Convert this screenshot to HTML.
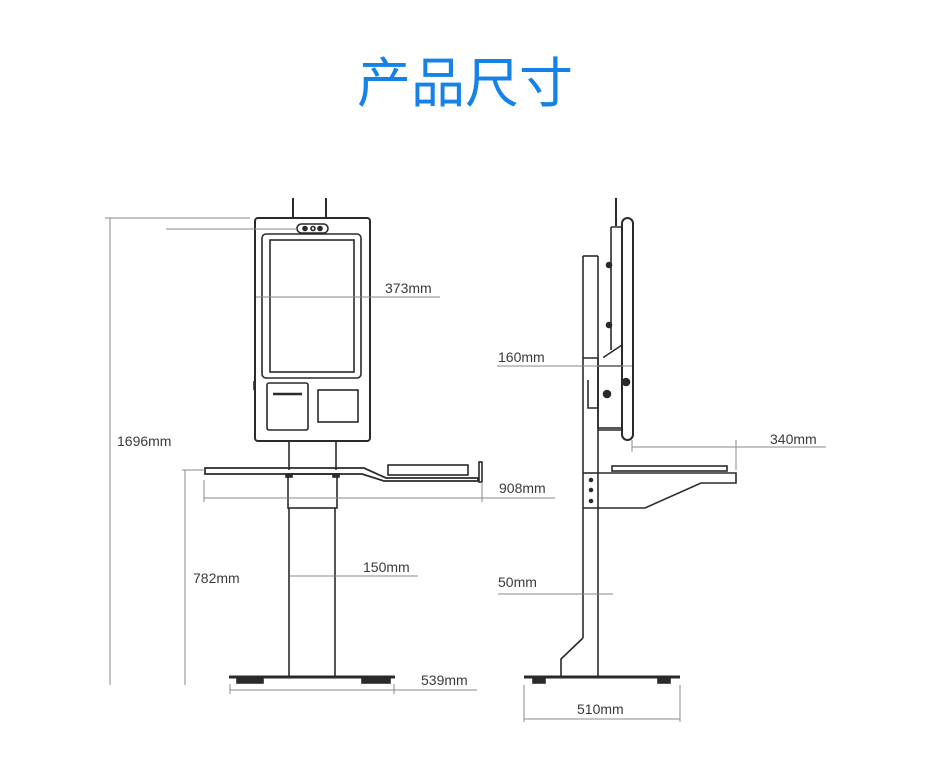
<!DOCTYPE html>
<html><head><meta charset="utf-8"><style>
html,body{margin:0;padding:0;background:#fff;width:930px;height:779px;overflow:hidden}
svg{display:block}
.t{font-family:"Liberation Sans",sans-serif;font-size:14px;fill:#3a3a3a}
</style></head><body>
<svg width="930" height="779" viewBox="0 0 930 779" xmlns="http://www.w3.org/2000/svg">
<text x="465" y="102" text-anchor="middle" style='font-family:"Liberation Sans","Noto Sans CJK SC",sans-serif;font-size:54px;fill:#1482e6'>产品尺寸</text>

<g fill="none" stroke="#2a2a2a" stroke-width="1.6">
<!-- FRONT VIEW -->
<line x1="293" y1="198" x2="293" y2="218" stroke-width="2"/>
<line x1="326" y1="198" x2="326" y2="218" stroke-width="2"/>
<rect x="255" y="218" width="115" height="223" rx="3" stroke-width="2"/>
<rect x="297" y="224" width="31" height="9" rx="4.5"/>
<circle cx="305" cy="228.5" r="2" fill="#2a2a2a"/><circle cx="313" cy="228.5" r="2"/><circle cx="320" cy="228.5" r="2" fill="#2a2a2a"/>
<rect x="262" y="234" width="99" height="144" rx="4"/>
<rect x="270" y="240" width="84" height="132"/>
<rect x="267" y="383" width="41" height="47" rx="2"/>
<line x1="273" y1="394" x2="302" y2="394" stroke-width="2.5"/>
<rect x="318" y="390" width="40" height="32"/>
<line x1="254" y1="381" x2="254" y2="390"/>
<!-- neck -->
<line x1="289" y1="441" x2="289" y2="470"/>
<line x1="336" y1="441" x2="336" y2="470"/>
<!-- tray -->
<path d="M205 468 H364 L386 478 H478 V481 H384 L362 474 H205 Z" stroke-width="1.8"/>
<rect x="388" y="465" width="80" height="10"/>
<rect x="479" y="462" width="3" height="20"/>
<rect x="286" y="474" width="6" height="3" fill="#2a2a2a"/><rect x="333" y="474" width="6" height="3" fill="#2a2a2a"/>
<!-- column -->
<rect x="288" y="474" width="49" height="34"/>
<line x1="289" y1="508" x2="289" y2="677"/>
<line x1="335" y1="508" x2="335" y2="677"/>
<line x1="229" y1="677" x2="395" y2="677" stroke-width="3"/>
<rect x="237" y="679" width="26" height="4" fill="#2a2a2a"/>
<rect x="362" y="679" width="28" height="4" fill="#2a2a2a"/>

<!-- SIDE VIEW -->
<line x1="616" y1="198" x2="616" y2="226" stroke-width="2"/>
<rect x="622" y="218" width="11" height="222" rx="5.5" stroke-width="2"/>
<path d="M611 227 H622 V345 L604 357 V358"/>
<line x1="611" y1="227" x2="611" y2="350"/>
<circle cx="609" cy="265" r="2.5" fill="#2a2a2a"/><circle cx="609" cy="325" r="2.5" fill="#2a2a2a"/>
<rect x="598" y="366" width="24" height="62"/>
<line x1="598" y1="430" x2="622" y2="430"/>
<circle cx="626" cy="382" r="3.5" fill="#2a2a2a"/>
<circle cx="607" cy="394" r="3.5" fill="#2a2a2a"/>
<path d="M583 358 H598 V408 H588 V380"/>
<line x1="583" y1="256" x2="598" y2="256"/>
<line x1="583" y1="256" x2="583" y2="638"/>
<line x1="598" y1="256" x2="598" y2="677"/>
<path d="M583 638 L561 659 V677"/>
<!-- side tray -->
<rect x="612" y="466" width="115" height="5"/>
<path d="M598 473 H736 V483 H701 L645 508 H583"/>
<line x1="583" y1="473" x2="598" y2="473"/>
<circle cx="591" cy="480" r="1.5" fill="#2a2a2a"/><circle cx="591" cy="490" r="1.5" fill="#2a2a2a"/><circle cx="591" cy="501" r="1.5" fill="#2a2a2a"/>
<line x1="524" y1="677" x2="680" y2="677" stroke-width="3"/>
<rect x="533" y="679" width="12" height="4" fill="#2a2a2a"/>
<rect x="658" y="679" width="12" height="4" fill="#2a2a2a"/>
</g>

<!-- DIMENSIONS -->
<g fill="none" stroke="#888" stroke-width="1">
<line x1="110" y1="218" x2="110" y2="685"/>
<line x1="105" y1="218" x2="250" y2="218"/>
<line x1="166" y1="229" x2="297" y2="229"/>
<line x1="185" y1="470" x2="185" y2="685"/>
<line x1="182" y1="470" x2="205" y2="470"/>
<line x1="204" y1="498" x2="555" y2="498"/>
<line x1="204" y1="480" x2="204" y2="502"/><line x1="482" y1="482" x2="482" y2="502"/>
<line x1="256" y1="297" x2="440" y2="297"/>
<line x1="290" y1="576" x2="418" y2="576"/>
<line x1="230" y1="690" x2="477" y2="690"/>
<line x1="230" y1="684" x2="230" y2="694"/><line x1="394" y1="684" x2="394" y2="694"/>
<line x1="497" y1="366" x2="632" y2="366"/>
<line x1="632" y1="447" x2="826" y2="447"/>
<line x1="632" y1="440" x2="632" y2="452"/><line x1="736" y1="440" x2="736" y2="470"/>
<line x1="498" y1="594" x2="613" y2="594"/>
<line x1="524" y1="685" x2="524" y2="722"/><line x1="680" y1="685" x2="680" y2="722"/>
<line x1="524" y1="719" x2="680" y2="719"/>
</g>
<g class="t">
<text x="117" y="446">1696mm</text>
<text x="193" y="583">782mm</text>
<text x="499" y="493">908mm</text>
<text x="385" y="293">373mm</text>
<text x="363" y="572">150mm</text>
<text x="421" y="685">539mm</text>
<text x="498" y="362">160mm</text>
<text x="770" y="444">340mm</text>
<text x="498" y="587">50mm</text>
<text x="577" y="714">510mm</text>
</g>
</svg>
</body></html>
